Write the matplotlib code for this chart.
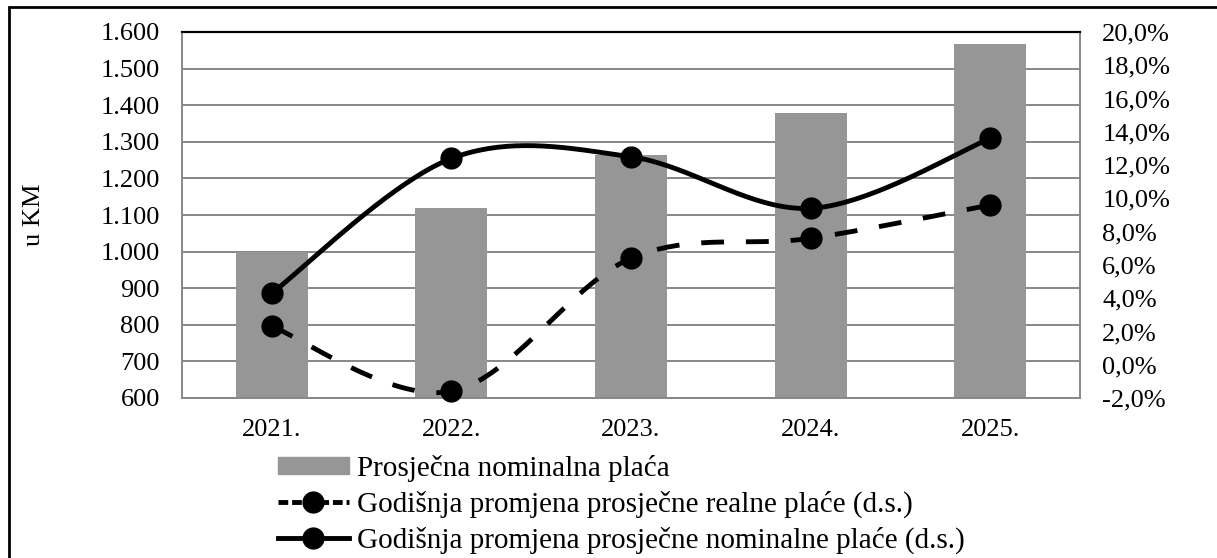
import numpy as np
import matplotlib.pyplot as plt
from matplotlib.lines import Line2D
from matplotlib.patches import Patch, Rectangle

plt.rcParams['font.family'] = ['Liberation Serif', 'DejaVu Serif']
plt.rcParams['font.size'] = 19

years = ["2021.", "2022.", "2023.", "2024.", "2025."]
nominal_wage = [1000, 1120, 1265, 1379, 1567]          # u KM, left axis
real_change = [2.3, -1.6, 6.4, 7.6, 9.6]               # %, right axis
nominal_change = [4.3, 12.4, 12.5, 9.4, 13.6]          # %, right axis

left_ticks = list(range(600, 1601, 100))
right_ticks = list(range(-2, 21, 2))
left_labels = [f"{v:,}".replace(",", ".") for v in left_ticks]
right_labels = [f"{v:.1f}%".replace(".", ",") for v in right_ticks]

labels = ["Prosječna nominalna plaća",
          "Godišnja promjena prosječne realne plaće (d.s.)",
          "Godišnja promjena prosječne nominalne plaće (d.s.)"]


def smooth(y, n=40):
    # excel-like smoothed line (catmull-rom as cubic bezier)
    y = np.asarray(y, float)
    x = np.arange(len(y), dtype=float)
    px, py = [], []
    for i in range(len(y) - 1):
        i0, i3 = max(i - 1, 0), min(i + 2, len(y) - 1)
        p0 = np.array([x[i], y[i]])
        p3 = np.array([x[i + 1], y[i + 1]])
        c1 = p0 + (np.array([x[i + 1], y[i + 1]]) - np.array([x[i0], y[i0]])) / 6
        c2 = p3 - (np.array([x[i3], y[i3]]) - np.array([x[i], y[i]])) / 6
        t = np.linspace(0, 1, n)[:, None]
        pts = (1 - t) ** 3 * p0 + 3 * (1 - t) ** 2 * t * c1 + 3 * (1 - t) * t ** 2 * c2 + t ** 3 * p3
        px.extend(pts[:, 0]); py.extend(pts[:, 1])
    return np.array(px), np.array(py)


fig = plt.figure(figsize=(12.17, 5.58), dpi=100)
W, H = 1217, 558
ax = fig.add_axes([182 / W, 1 - 398 / H, (1080 - 182) / W, (398 - 32) / H])
ax2 = ax.twinx()

xs = np.arange(len(years))
grid_c = "#878787"
bar_c = "#969696"

ax.bar(xs, nominal_wage, width=0.4, color=bar_c, zorder=2)
ax.set_ylim(600, 1600)
ax.set_xlim(-0.5, len(years) - 0.5)
ax.set_yticks(left_ticks)
ax.set_yticklabels(left_labels)
ax.set_xticks(xs)
ax.set_xticklabels(years)
ax.tick_params(axis='y', length=0, pad=16)
ax.tick_params(axis='x', length=0, pad=15)
ax.yaxis.grid(True, color=grid_c, lw=1.4, zorder=0)
ax.set_axisbelow(True)
ax.set_ylabel("u KM", labelpad=40)

for s in ["left", "bottom", "right"]:
    ax.spines[s].set_color(grid_c)
    ax.spines[s].set_linewidth(1.4)
ax.spines["top"].set_color("black")
ax.spines["top"].set_linewidth(1.6)

ax2.set_ylim(-2, 20)
ax2.set_yticks(right_ticks)
ax2.set_yticklabels(right_labels)
ax2.tick_params(axis='y', length=0, pad=16)
for s in ax2.spines.values():
    s.set_visible(False)

lw = 3.5
ms = 15
sx, sy = smooth(real_change)
ax2.plot(sx, sy, color="black", lw=lw, ls=(0, (4.7, 4.5)), dash_capstyle='butt')
ax2.plot(xs, real_change, 'o', color="black", ms=ms, clip_on=False)
sx, sy = smooth(nominal_change)
ax2.plot(sx, sy, color="black", lw=lw)
ax2.plot(xs, nominal_change, 'o', color="black", ms=ms, clip_on=False)

handles = [Patch(color=bar_c),
           Line2D([], [], color="black", lw=lw, ls=(0, (2.0, 0.8)), marker='o', ms=ms),
           Line2D([], [], color="black", lw=lw, marker='o', ms=ms)]
fig.legend(handles, labels, loc='upper left', bbox_to_anchor=(278 / W, 1 - 455 / H),
           frameon=False, borderpad=0, borderaxespad=0, handlelength=2.43,
           handleheight=0.5, handletextpad=0.27, labelspacing=0.29, fontsize=21)

# outer frame, only left and top edges fall inside the picture
fig.patches.append(Rectangle((9 / W, -0.05), 1.2, (1 - 7 / H) + 0.05,
                             transform=fig.transFigure, fill=False, ec="black", lw=2))

fig.savefig("out.png", dpi=100)
